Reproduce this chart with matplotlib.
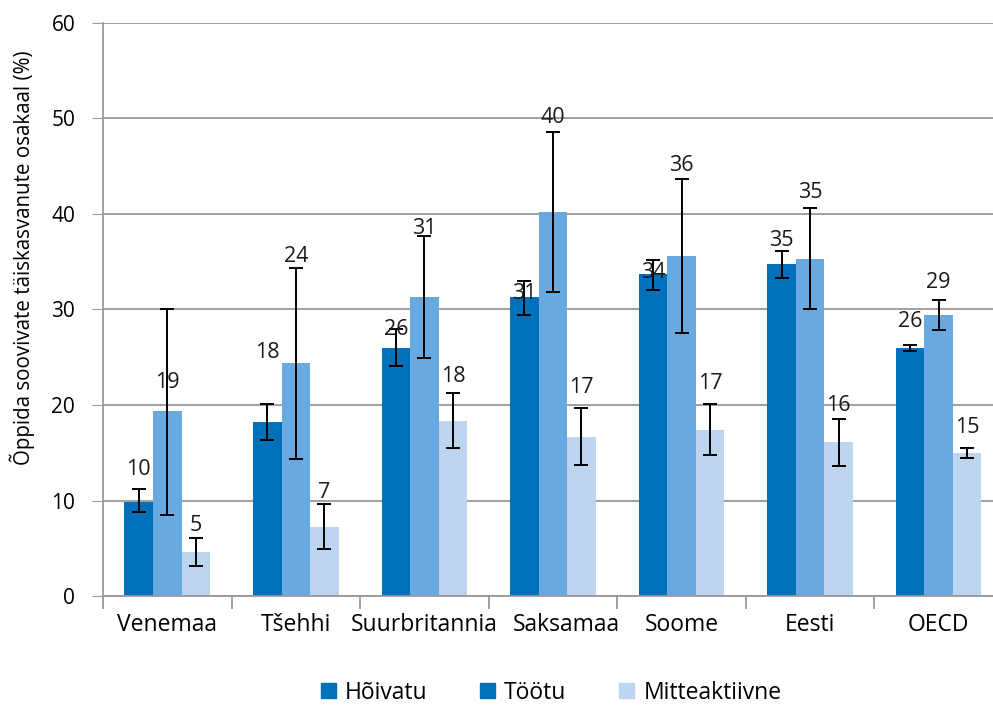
import numpy as np
import matplotlib.pyplot as plt
import matplotlib.transforms as mtransforms
from matplotlib.patches import Patch

plt.rcParams['font.family'] = ['Open Sans', 'DejaVu Sans']

# Data
countries = ['Venemaa', 'Tšehhi', 'Suurbritannia', 'Saksamaa', 'Soome', 'Eesti', 'OECD']
series = ['Hõivatu', 'Töötu', 'Mitteaktiivne']

employed = [9.8, 18.2, 26.0, 31.3, 33.7, 34.8, 26.0]
employed_hi = [11.2, 20.1, 28.0, 33.0, 35.2, 36.1, 26.3]
employed_lo = [8.8, 16.3, 24.1, 29.4, 32.0, 33.3, 25.7]

unemployed = [19.4, 24.4, 31.3, 40.2, 35.6, 35.3, 29.4]
unemployed_hi = [30.0, 34.3, 37.7, 48.6, 43.7, 40.6, 31.0]
unemployed_lo = [8.5, 14.3, 24.9, 31.8, 27.5, 30.0, 27.9]

inactive = [4.6, 7.2, 18.3, 16.7, 17.4, 16.1, 15.0]
inactive_hi = [6.1, 9.6, 21.3, 19.7, 20.1, 18.5, 15.5]
inactive_lo = [3.1, 4.9, 15.5, 13.7, 14.8, 13.6, 14.5]

# label heights (as placed in the original)
employed_lab_y = [13.2, 25.5, 27.9, 31.7, 33.9, 37.2, 28.7]
unemployed_lab_y = [22.4, 35.6, 38.5, 50.1, 45.1, 42.3, 32.8]
inactive_lab_y = [7.4, 10.8, 23.0, 21.8, 22.3, 20.0, 17.6]

colors = ['#0070BA', '#68AADF', '#BDD5EF']

fig = plt.figure(figsize=(9.93, 7.11), dpi=100)
# axis runs a little past the right edge of the picture, as in the original
ax = fig.add_axes([0.1037, 0.1617, 0.9063, 0.806])

x = np.arange(len(countries))
w = 0.222
groups = [
    (employed, employed_lo, employed_hi, employed_lab_y),
    (unemployed, unemployed_lo, unemployed_hi, unemployed_lab_y),
    (inactive, inactive_lo, inactive_hi, inactive_lab_y),
]
for i, (vals, lo, hi, laby) in enumerate(groups):
    pos = x + (i - 1) * w
    vals = np.array(vals)
    yerr = [vals - np.array(lo), np.array(hi) - vals]
    ax.bar(pos, vals, w, color=colors[i], zorder=2)
    ax.errorbar(pos, vals, yerr=yerr, fmt='none', ecolor='black',
                elinewidth=1.4, capsize=5, capthick=1.4, zorder=3)
    for px, v, ly in zip(pos, vals, laby):
        ax.text(px, ly, f"{v:.0f}", ha='center', va='center',
                fontsize=15.5, color='#1a1a1a', zorder=4)

ax.set_xlim(-0.5, len(countries) - 0.5)
ax.set_ylim(0, 60)
ax.set_yticks(range(0, 61, 10))
ax.tick_params(axis='y', labelsize=15, length=8, color='#999999', pad=12)
ax.yaxis.grid(True, color='#999999', linewidth=1.3, zorder=0)

ax.set_xticks(x)
ax.set_xticklabels(countries, fontsize=16.5)
ax.tick_params(axis='x', length=0, pad=12)
ax.set_xticks(np.arange(-0.5, len(countries)), minor=True)
ax.tick_params(axis='x', which='minor', length=9, color='#999999', width=1.3)
# Saksamaa label is nudged right in the original to clear its neighbour
lab = ax.get_xticklabels()[3]
lab.set_transform(lab.get_transform() + mtransforms.ScaledTranslation(13 / 100, 0, fig.dpi_scale_trans))

for s in ['top', 'right']:
    ax.spines[s].set_visible(False)
for s in ['left', 'bottom']:
    ax.spines[s].set_color('#999999')
    ax.spines[s].set_linewidth(1.3)

ax.set_ylabel('Õppida soovivate täiskasvanute osakaal (%)', fontsize=14.8)
ax.yaxis.set_label_coords(-0.076, 0.59)

handles = [Patch(color=colors[0]), Patch(color=colors[0]), Patch(color=colors[2])]
fig.legend(handles, series, loc='lower center', bbox_to_anchor=(0.555, -0.02),
           ncol=3, frameon=False, fontsize=16.5, handlelength=0.65,
           handleheight=0.65, handletextpad=0.4, columnspacing=2.3)

fig.savefig('out.png', dpi=100)
